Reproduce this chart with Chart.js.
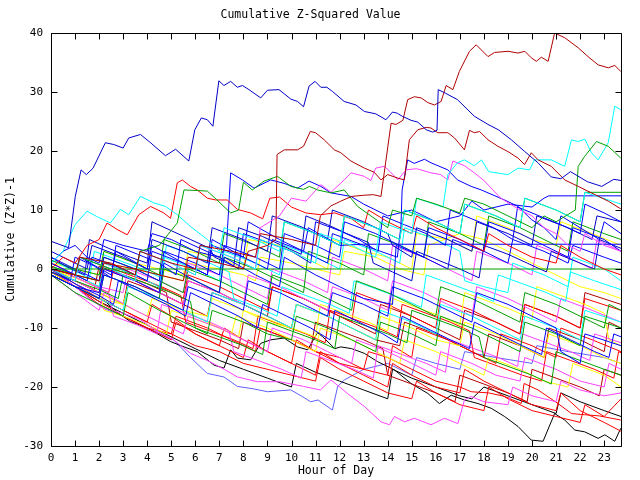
<!DOCTYPE html>
<html>
<head>
<meta charset="utf-8">
<script src="https://cdn.jsdelivr.net/npm/chart.js@4"></script>
<style>
  html, body { margin: 0; padding: 0; background: #fff; }
  canvas { display: block; }
</style>
</head>
<body>
<canvas id="chart" width="640" height="480"></canvas>
<script>
// Hour ticks along the bottom, value ticks on the left
const hourTicks  = [0,1,2,3,4,5,6,7,8,9,10,11,12,13,14,15,16,17,18,19,20,21,22,23];
const valueTicks = [-30,-20,-10,0,10,20,30,40];

// Each series: [hour, cumulative value] pairs
const darkBlueTop = [[0,4.7],[0.73,3.6],[1.01,12.3],[1.25,16.8],[1.47,16],[1.75,17.1],[2.26,21.4],[2.61,21.1],[3,20.5],[3.23,22.2],[3.72,22.8],[4.14,21.4],[4.76,19.2],[5.18,20.3],[5.73,18.3],[5.98,23.6],[6.25,25.6],[6.5,25.3],[6.73,24.2],[6.98,31.9],[7.19,31.1],[7.47,31.8],[7.75,30.8],[7.96,31.1],[8.23,30.4],[8.72,29],[9,30.3],[9.48,30.4],[9.97,28.8],[10.25,28.4],[10.5,27.5],[10.73,31],[10.98,31.8],[11.22,30.8],[11.47,30.8],[11.7,30.1],[12.19,28.4],[12.68,27.8],[13.03,26.7],[13.5,26.3],[13.93,25.3],[14.2,26.6],[14.4,26.4],[14.6,25.9],[14.97,25.2],[15.25,24.9],[15.6,23.6],[15.87,23.2],[16.05,23.5],[16.1,30.4],[16.4,29.8],[16.9,28.7],[17.6,25.9],[18.17,24.5],[18.6,23.6],[19.14,21.9],[19.7,19.9],[20.25,18],[20.8,15.6],[21.2,15.3],[21.6,16.5],[22.3,14.8],[22.9,14],[23.4,15.2],[23.7,15]];
const darkRedA = [[0,0],[1,-1],[2,-2],[2.2,1],[3.5,0],[4.5,-1],[5.5,-2],[5.7,2],[7,1],[8,0],[8.2,3],[9,4],[9.35,5],[9.4,19.4],[9.7,20.2],[10.25,20.2],[10.5,20.8],[10.78,23.3],[11,23.1],[11.36,21.9],[11.78,20.2],[12.05,19.7],[12.47,18.3],[13.03,17.1],[13.44,16.4],[13.72,15.1],[14,16],[14.42,15.4],[14.69,15.1],[14.9,21.9],[15.25,23.6],[15.6,24],[15.8,23.9],[16.08,23.1],[16.5,23.1],[16.78,22.2],[17.19,20.2],[17.4,23.5],[17.6,23.1],[17.82,23.3],[18.17,21.9],[18.58,20.8],[19,19.9],[19.42,18.8],[19.69,17.7],[19.97,19.7],[20.25,18.5],[20.8,17.4],[21.36,15.1],[21.92,14],[22.47,12.9],[23.17,11.5],[23.69,10.2]];
const darkRedB = [[0,0],[1,-1],[1.2,2],[2.5,1],[3.5,-1],[3.7,3],[5,1],[6,0],[6.2,4],[7.5,3],[8.5,2],[8.7,6],[10,5],[11,4],[11.2,9],[11.64,10.7],[12.05,11.5],[12.5,12.3],[13,12.5],[13.4,12.6],[13.72,12.3],[14.14,24.7],[14.35,24.5],[14.63,25.2],[14.83,28.7],[15.11,29.2],[15.39,29],[15.67,28.2],[15.94,27.8],[16.22,28.4],[16.43,31.1],[16.71,30.4],[16.98,33.5],[17.4,36.9],[17.68,38],[18.17,36],[18.44,36.7],[19,36.9],[19.42,36.6],[19.7,36.9],[19.97,35.8],[20.18,35.2],[20.39,35.9],[20.67,35.2],[20.94,40],[21.36,39.2],[21.92,37.5],[22.33,36],[22.75,34.6],[23.17,34.1],[23.44,34.5],[23.69,33.5]];
const greenUpper = [[0,0],[1,-1],[1.2,2],[2.5,0],[3.5,-1],[3.7,3],[4.5,4],[5.25,7.8],[5.53,13.4],[6.08,13.3],[6.5,13.2],[6.9,11.7],[7.47,9.5],[7.8,10],[8,14.7],[8.37,13.4],[8.86,14.9],[9.42,15.7],[9.97,14],[10.5,13.5],[10.75,14],[11.08,13.4],[11.64,12.9],[12.19,13.4],[12.75,10.6],[13.3,9],[14,7],[14.2,10],[15,9],[15.2,12],[16,11],[17,9.5],[17.2,12],[18,11],[19,9],[19.5,8],[20,7],[20.5,9],[21,8],[21.8,10],[21.92,17.4],[22.19,19.1],[22.68,21.6],[23.17,20.8],[23.69,18.8]];
const cyanTopRight = [[0,0],[1,-2],[1.2,2],[2.5,0],[3.5,-2],[3.7,3],[5,1],[6,-1],[6.2,4],[7.5,2],[8.5,0],[8.7,5],[10,3],[11,1],[11.2,6],[12.5,4],[13.5,2],[13.7,8],[15,6],[15.2,12],[16.3,10.5],[16.5,16],[16.9,18],[17.19,18.5],[17.6,17.5],[17.9,18.5],[18.2,16.5],[19,16],[19.42,17.1],[19.9,16.8],[20.1,18.5],[20.8,18.5],[21.36,17.4],[21.64,21.9],[21.9,21.6],[22.2,22],[22.47,19.7],[22.75,18.5],[23.17,21.4],[23.44,27.6],[23.69,27]];
const cyanLeft = [[0,1],[0.5,3],[1,7.5],[1.5,9.8],[1.9,8.9],[2.47,7.8],[2.89,10.1],[3.23,9.2],[3.72,12.3],[4.28,11.2],[4.76,10.6],[5.25,9.2],[5.8,7.2],[6.5,5],[7,3],[7.2,7],[8.5,5],[9.5,3],[9.7,8],[11,6],[12,4],[12.2,9],[13.5,7],[14.5,5],[14.7,10],[16,8],[17,6],[17.2,11],[18.5,9],[19.5,7],[19.7,12],[21,10],[22,8],[22.2,13],[23.7,11]];
const magentaUpper = [[0,0],[1,-2],[1.2,2],[2.5,0],[3.5,-2],[3.7,3],[5,1],[6,-1],[6.2,4],[7.5,2],[8.5,0],[8.7,7],[9.5,9],[10,12],[10.6,11.5],[11.22,14.3],[11.64,13],[12.19,15.1],[12.47,16.3],[13.03,15.7],[13.3,15],[13.5,17.1],[13.86,17.4],[14.1,16.5],[14.42,15.1],[14.76,16.8],[15.2,17],[15.8,16.3],[16.2,16],[16.5,15.1],[16.71,18.3],[17.19,17.5],[17.6,16.3],[18,15],[18.7,12],[19.5,10],[20,9],[20.5,7],[21,6],[21.5,4],[22,3],[22.2,6],[23,4],[23.7,3]];
const redUpper = [[0,0],[0.5,2],[1,1],[1.5,4],[2,5],[2.33,7.8],[2.75,6.7],[3.17,5.8],[3.65,9.2],[4.14,10.6],[4.69,9.5],[4.97,8.6],[5.25,14.6],[5.46,15.1],[5.8,14],[6.08,13.4],[6.5,12],[6.85,11.7],[7.33,11.7],[7.75,10.1],[8.3,9.5],[8.8,8.5],[9.1,12],[9.5,12.2],[10,10.5],[10.6,9.5],[11.2,9.2],[11.8,9.5],[12.5,8.5],[13,7],[13.2,10],[14,8],[15,6],[15.2,9],[16,7],[17,5],[18,3],[18.2,6],[19,4],[20,2],[21,1],[21.2,4],[22,2],[23,0],[23.7,-1]];
const blueMidPeak = [[0,1],[0.5,3],[1,4],[1.5,2],[2,1],[2.2,5],[3,4],[4,3],[4.2,6],[5,5],[6,3],[7,2],[7.3,4],[7.47,16.3],[7.96,15.1],[8.44,13.7],[9.14,15.1],[9.7,14.5],[10.25,13.7],[10.73,14.9],[11.22,14],[11.64,12.9],[12.47,12.3],[13,11],[14,9],[15,10],[15.5,9],[16,8],[17,9],[17.5,11.5],[18,10],[19,11],[20,10.5],[20.5,12],[20.7,12.4],[23.7,12.4]];
const blueLatePeak = [[0,1],[1,-1],[1.5,-2],[1.7,2],[3,0],[4,-2],[4.2,3],[5.5,1],[6.5,-1],[6.7,4],[8,2],[9,0],[9.2,5],[10.5,3],[11.5,1],[11.7,6],[13,4],[14.4,2],[14.55,7.3],[14.6,13.4],[14.83,18.5],[15.1,17.9],[15.53,18.6],[15.8,18],[16.5,16.8],[16.9,15.1],[17.47,14],[17.89,13.4],[18.86,11.7],[19.42,10.6],[19.97,8.4],[20.5,7],[21,5],[21.2,9],[22,7],[22.8,5],[23,8],[23.7,6]];
const blueFlat = [[0,0],[1,-2],[1.2,2],[2.5,-1],[2.7,3],[4,0],[4.2,4],[5.5,1],[6.5,-1],[6.7,5],[8,2],[8.2,8],[9.5,5],[10.5,3],[10.7,7],[12,4],[13,4.2],[23.7,4.2]];
const greenFlat = [[0,0],[23.7,0]];
const blueSpike = [[0,-1],[1,-3],[2,-4],[2.2,0],[3.5,-2],[4.5,-4],[4.7,1],[6,-2],[7,-4],[7.2,2],[8.5,-1],[9.5,-3],[9.7,2],[11,-1],[12,-3],[13,-5],[14.2,-6],[14.35,4],[15.5,2],[16.5,0],[16.7,5],[18,3],[19,1],[19.2,5],[20.5,3],[21.5,1],[21.7,4],[23,2],[23.7,1]];
const blueRiser = [[0,2],[1,0],[2,-2],[2.2,2],[3.5,0],[4.5,-2],[4.7,3],[6,1],[7,-1],[7.2,4],[8.5,2],[9.5,0],[9.7,6],[11,4],[12,2],[12.2,8],[13.5,6],[14.5,4],[15.5,2],[15.7,7],[17,5],[18,3],[18.2,8],[19.5,6],[20.5,4],[21.5,2],[21.7,7],[23,5],[23.7,3]];
const blueLow = [[0,-1],[1,-3],[2,-5],[2.2,-1],[3.5,-3],[4.5,-5],[5.5,-7],[5.7,-3],[7,-5],[8,-7],[8.2,-2],[9.5,-4],[10.5,-6],[11.5,-8],[11.7,-4],[13,-6],[14,-8],[14.2,-3],[15.5,-5],[16.5,-7],[17.5,-9],[17.7,-4],[19,-6],[20,-8],[21,-10],[21.2,-14],[22,-16],[22.2,-11],[23.7,-13]];
const blueSteps = [[0,-0.5],[0.8,-2],[1,2],[1.8,0.5],[2.5,-1.5],[2.7,4],[3.6,2.5],[4.5,1],[5.2,-1],[5.4,5],[6.2,3.5],[7,2],[7.8,0],[8,6],[9,4.5],[10,3],[10.8,1],[11,8],[12,6.5],[12.8,5],[13.6,3],[13.8,9],[14.7,7.5],[15.6,6],[16.4,4],[16.6,10],[17.5,8.5],[18.4,7],[19.2,5],[19.4,10.5],[20.3,9],[21.2,7.5],[22,6],[22.2,11],[23,9.5],[23.7,8]];
const blueSlide = [[0,0],[1,-2.5],[2,-4.5],[2.6,-6],[2.8,-2],[3.8,-4],[4.8,-6],[5.6,-8],[5.8,-4],[6.8,-6],[7.8,-8],[8.6,-10],[8.8,-6],[9.8,-8],[10.8,-10],[11.6,-12],[11.8,-7],[12.8,-9],[13.8,-11],[14.4,-12.5],[14.6,-8],[15.6,-10],[16.6,-12],[17.4,-13.5],[17.6,-9],[18.6,-11],[19.6,-13],[20.4,-14.5],[20.6,-10],[21.6,-12],[22.6,-14],[23.2,-15],[23.4,-11],[23.7,-11.5]];
const darkBlueMid = [[0,3],[1,1],[1.5,0],[1.7,4],[3,2],[4,0],[4.2,5],[5.5,3],[6.5,1],[6.7,7],[8,5],[9,3],[9.2,9],[10.5,7],[11.5,5],[11.7,10],[13,8],[14,6],[14.2,4],[15,2],[15.2,7],[16.5,5],[17.5,3],[17.7,8],[19,6],[20,4],[20.2,9],[21.5,7],[22.5,5],[22.7,9],[23.7,8]];
const darkBlueWave = [[0,2],[0.6,0.5],[1.4,-1],[1.6,5],[2.4,3.5],[3.3,2],[4,1],[4.2,8],[5,6.5],[5.8,5],[6.6,3.5],[6.8,2],[7.6,0.5],[7.8,7],[8.8,5.5],[9.6,4],[10.4,2.5],[10.6,9],[11.5,7.5],[12.3,6],[13.2,4.5],[13.4,1],[14.2,-0.5],[15,-2],[15.2,3],[16.1,1.5],[17,0],[17.8,-1.5],[18,4],[19,2.5],[19.8,1],[20.6,-0.5],[20.8,3],[21.7,1.5],[22.6,0],[22.8,5],[23.7,3.5]];
const greenMid = [[0,-1],[1,-3],[2,-5],[2.2,-1],[3.5,-3],[4.5,-5],[4.7,0],[6,-2],[7,-4],[7.2,2],[8.5,0],[9.5,-2],[10.5,-4],[10.7,3],[12,1],[13,-1],[13.2,6],[14.5,4],[15.5,2],[15.7,8],[17,6],[18,4],[18.2,9],[19.5,7],[20.5,5],[21.5,3],[21.7,8],[23,6],[23.7,5]];
const greenLow = [[0,-1],[1,-4],[2,-6],[3,-8],[3.2,-4],[4.5,-7],[5.5,-9],[6.5,-11],[6.7,-7],[8,-9],[9,-11],[10,-12],[10.2,-8],[11.5,-10],[12.5,-12],[13.5,-14],[13.7,-9],[15,-11],[16,-13],[16.2,-8],[17.5,-10],[18.5,-12],[19.5,-14],[19.7,-9],[21,-11],[22,-13],[22.2,-8],[23.7,-10]];
const greenDrift = [[0,0.5],[1,-1],[2,-2],[2.2,2],[3.5,0],[4.5,-2],[5.5,-4],[5.7,0],[7,-2],[8,-4],[9,-6],[9.2,-1],[10.5,-3],[11.5,-5],[12.5,-7],[12.7,-2],[14,-4],[15,-6],[16,-8],[16.2,-3],[17.5,-5],[18.5,-7],[19.5,-9],[19.7,-4],[21,-6],[22,-8],[23,-10],[23.2,-6],[23.7,-7]];
const greenHigh = [[0,1.5],[1,0],[2,-1],[2.2,3],[3.5,1],[4.5,-1],[4.7,5],[6,3],[7,1],[7.2,6],[8.5,4],[9.5,2],[9.7,8],[11,6],[12,4],[12.2,9],[13.5,7],[14.5,5],[14.7,10],[16,8],[17,6],[17.2,11],[18.5,9],[19.5,7],[19.7,12],[21,10],[22,8],[22.2,13],[23.7,13]];
const greenSink = [[0,-0.5],[1,-2],[2,-3.5],[2.8,-5],[3,-1],[4,-2.5],[5,-4],[5.8,-5.5],[6,-10],[7,-11.5],[8,-13],[8.8,-14.5],[9,-9],[10,-10.5],[11,-12],[11.8,-13.5],[12,-8],[13,-9.5],[14,-11],[14.8,-12.5],[15,-7],[16,-8.5],[17,-10],[17.8,-11.5],[18,-15],[19,-16.5],[20,-18],[20.8,-19.5],[21,-14],[22,-15.5],[23,-17],[23.7,-18]];
const cyanLow = [[0,-1],[1,-3],[2,-5],[3,-7],[3.2,-3],[4.5,-5],[5.5,-7],[6.5,-9],[6.7,-4],[8,-6],[9,-8],[10,-10],[10.2,-6],[11.5,-8],[12.5,-10],[13.5,-12],[13.7,-7],[15,-9],[16,-11],[16.2,-6],[17.5,-8],[18.5,-10],[19.5,-12],[19.7,-8],[21,-10],[22,-12],[22.2,-7],[23.7,-9]];
const cyanMid = [[0,0.5],[1,-1],[2,-3],[2.2,1],[3.5,-1],[4.5,-3],[4.7,2],[6,0],[7,-2],[7.2,3],[8.5,1],[9.5,-1],[9.7,4],[11,2],[12,0],[12.2,5],[13.5,3],[14.5,1],[14.7,7],[16,5],[17,3],[17.2,-2],[18,-3],[19,-4],[19.2,1],[20.5,-1],[21.5,-3],[21.7,2],[23,0],[23.7,-2]];
const cyanDip = [[0,1.5],[0.8,0],[1.6,-1.5],[1.8,3],[2.8,1.5],[3.8,0],[4.6,-1.5],[4.8,4],[5.8,2.5],[6.6,1],[7.4,-0.5],[7.6,-5],[8.6,-6.5],[9.4,-8],[9.6,-3],[10.6,-4.5],[11.6,-6],[12.4,-7.5],[12.6,-2],[13.6,-3.5],[14.6,-5],[15.4,-6.5],[15.6,-1],[16.6,-2.5],[17.6,-4],[18.4,-5.5],[18.6,-1],[19.6,-2.5],[20.6,-4],[21.4,-5.5],[21.6,-0.5],[22.6,-2],[23.7,-3.5]];
const magentaMid = [[0,-0.5],[1,-2],[2,-4],[2.2,0],[3.5,-2],[4.5,-4],[5.5,-6],[5.7,-2],[7,-4],[8,-6],[8.2,-1],[9.5,-3],[10.5,-5],[11.5,-7],[11.7,-3],[13,-5],[14,-7],[14.2,-2],[15.5,-4],[16.5,-6],[17.5,-8],[17.7,-3],[19,-5],[20,-7],[21,-9],[21.2,-5],[22.5,-7],[23.7,-9]];
const magentaDown = [[0,-1],[1,-4],[2,-7],[2.2,-4],[3.5,-7],[4.5,-9],[5.5,-11],[5.7,-8],[7,-10],[8,-12],[9,-14],[9.2,-10],[10.5,-12],[11.5,-14],[12.5,-16],[12.7,-12],[14,-14],[15,-16],[16,-18],[16.2,-14],[17.5,-16],[18.5,-18],[19.5,-19],[19.7,-15],[21,-17],[22,-19],[23,-20],[23.2,-16],[23.7,-17]];
const magentaHigh = [[0,1],[1,-1],[2,-3],[3,-4],[3.2,0],[4.5,-2],[5.5,-4],[5.7,1],[7,-1],[8,-3],[9,-5],[9.2,0],[10.5,-2],[11.5,-4],[11.7,2],[13,0],[14,-2],[14.2,4],[15.5,2],[16.5,0],[17.5,-2],[17.7,3],[19,1],[20,-1],[20.2,4],[21.5,2],[22.5,0],[22.7,5],[23.7,3]];
const magentaSteps = [[0,0.5],[0.8,-1],[1.6,-2.5],[2.4,-4],[2.6,-8],[3.6,-9.5],[4.4,-11],[4.6,-6],[5.6,-7.5],[6.6,-9],[7.4,-10.5],[7.6,-14],[8.6,-15.5],[9.6,-17],[10.4,-18.5],[10.6,-14],[11.6,-15.5],[12.6,-17],[13.4,-18.5],[13.6,-13],[14.6,-14.5],[15.6,-16],[16.4,-17.5],[16.6,-12],[17.6,-13.5],[18.6,-15],[19.4,-16.5],[19.6,-11],[20.6,-12.5],[21.6,-14],[22.4,-15.5],[22.6,-11],[23.7,-12.5]];
const magentaLow = [[0,0],[0.5,-1.5],[1,-3],[1.6,-5],[2.2,-6.7],[3,-7.5],[3.72,-8.6],[4.4,-10.5],[5.1,-12],[5.8,-14.3],[6.5,-15.5],[7.2,-17],[7.75,-18.3],[8.58,-19.1],[9.5,-19.1],[10.5,-19.9],[11.2,-20.5],[11.64,-18.8],[12.33,-21.1],[13.03,-23.3],[13.72,-25.9],[14.07,-26.4],[14.28,-25],[14.7,-25.9],[15.11,-25.3],[15.8,-26.4],[16.36,-25.3],[16.92,-26.2],[17.19,-22.2],[17.47,-21.6],[18,-22.5],[19,-23],[19.2,-20],[20,-21.5],[21,-22.5],[21.2,-19],[22,-20.5],[23,-21.5],[23.7,-21]];
const yellowMid = [[0,0],[1,-1],[2,-2],[2.2,1],[3.5,0],[4.5,-1],[5.5,-2],[5.7,1],[7,0],[8,-1],[8.5,-2],[8.7,2],[10,1],[11,0],[12,-1],[12.2,3],[13.5,2],[14.5,0],[15.5,-1],[15.7,4],[17,6],[18,5],[19,3],[20,1],[21,-1],[22,-3],[23,-4],[23.7,-5]];
const yellowLow = [[0,-0.5],[1,-3],[2,-5],[3,-6],[3.2,-3],[4.5,-5],[5.5,-7],[6.5,-8],[6.7,-5],[8,-7],[9,-9],[10,-10],[10.2,-6],[11.5,-8],[12.5,-10],[13.5,-12],[13.7,-8],[15,-10],[16,-12],[17,-13],[17.2,-9],[18.5,-11],[19.5,-13],[20.5,-15],[20.7,-11],[22,-13],[23,-15],[23.7,-16]];
const yellowDown = [[0,0.5],[1,-2],[2,-4],[3,-6],[4,-8],[4.2,-5],[5.5,-7],[6.5,-9],[7.5,-11],[7.7,-8],[9,-10],[10,-12],[11,-14],[11.2,-10],[12.5,-12],[13.5,-14],[14.5,-16],[14.7,-12],[16,-14],[17,-16],[18,-18],[18.2,-15],[19.5,-17],[20.5,-19],[21.5,-20],[21.7,-16],[23,-18],[23.7,-20]];
const yellowHigh = [[0,1],[1,0],[2,-1],[2.2,3],[3.5,1],[4.5,0],[5.5,-1],[5.7,3],[7,2],[8,0],[8.2,5],[9.5,4],[10.5,2],[11.5,0],[11.7,5],[13,3],[14,2],[15,0],[15.2,6],[16.5,5],[17.5,3],[17.7,9],[19,7],[20,5],[21,4],[21.2,8],[22.5,6],[23.7,4]];
const yellowSaw = [[0,0],[1,-1.5],[2,-3],[2.2,-7],[3,-8],[4,-9.5],[4.8,-11],[5,-7],[6,-8.5],[7,-10],[7.8,-11.5],[8,-7],[9,-8.5],[10,-10],[11,-11.5],[11.2,-6],[12.2,-7.5],[13.2,-9],[14,-10.5],[14.2,-5],[15.2,-6.5],[16.2,-8],[17,-9.5],[17.2,-4],[18.2,-5.5],[19.2,-7],[20,-8.5],[20.2,-3],[21.2,-4.5],[22.2,-6],[23,-7.5],[23.2,-12],[23.7,-13]];
const redLowA = [[0,0],[1,-2.5],[2,-5],[3,-7],[4,-9],[4.2,-6],[5,-8],[6,-11],[7,-13],[7.2,-10],[8,-12],[9,-14],[10,-16],[10.2,-12],[11,-14],[12,-16],[13,-17],[13.2,-14],[14,-15],[15,-17],[16,-19],[17,-20],[17.47,-20.8],[18.2,-21],[18.86,-21.6],[19.55,-22.8],[19.67,-19.4],[20.25,-20.5],[21.08,-22.8],[21.64,-24.5],[22.19,-24.7],[22.8,-24.9],[23.69,-25.6]];
const redLowB = [[0,-0.5],[1,-3],[2,-5.5],[3,-8],[4,-10],[5,-12],[5.2,-9],[6,-11],[7,-13],[8,-15],[8.2,-12],[9,-14],[10,-16],[11,-18],[11.2,-14],[12,-16],[13,-18],[14,-20],[14.2,-16],[15,-18],[16,-20],[17,-21],[17.2,-17],[18,-19],[19,-21],[20,-23],[21,-24],[21.2,-21],[22,-24],[23,-26],[23.7,-27.5]];
const redMid = [[0,1],[1,-1],[2,-3],[2.2,1],[3.5,-1],[4.5,-3],[5.5,-5],[5.7,-1],[7,-3],[8,-5],[9,-7],[9.2,-3],[10.5,-5],[11.5,-7],[12.5,-9],[12.7,-4],[14,-6],[15,-8],[16,-10],[16.2,-5],[17.5,-7],[18.5,-9],[19.5,-11],[19.7,-6],[21,-8],[22,-10],[22.2,-5],[23.7,-7]];
const redJumpy = [[0,-1],[1,-3],[2,-5],[3,-7],[4,-9],[5,-11],[5.2,-8],[6.5,-10],[7.5,-12],[8.5,-14],[8.7,-10],[10,-12],[11,-14],[12,-15],[13,-17],[14,-18],[14.2,-13],[15,-15],[15.2,-10],[16.5,-12],[17.5,-14],[18.5,-16],[18.7,-11],[20,-13],[21,-15],[21.2,-10],[22.5,-12],[23.7,-14]];
const redBottom = [[0,0],[1,-3],[2,-6],[3,-8],[4,-10],[5,-11],[6,-13],[7,-14],[8,-16],[9,-17],[10,-18],[11,-19],[11.2,-15],[12,-17],[13,-19],[14,-21],[15,-22],[15.2,-19],[16,-21],[17,-23],[18,-24],[18.2,-20],[19,-22],[20,-24],[21,-25],[22,-26],[22.2,-23],[23,-25],[23.7,-22]];
const redZig = [[0,0.5],[0.8,-1],[1.6,-2.5],[2.4,-4],[2.6,0],[3.6,-1.5],[4.6,-3],[5.4,-4.5],[5.6,-9],[6.6,-10.5],[7.6,-12],[8.4,-13.5],[8.6,-8],[9.6,-9.5],[10.6,-11],[11.4,-12.5],[11.6,-7],[12.6,-8.5],[13.6,-10],[14.4,-11.5],[14.6,-6],[15.6,-7.5],[16.6,-9],[17.4,-10.5],[17.6,-15],[18.6,-16.5],[19.6,-18],[20.4,-19],[20.6,-14],[21.6,-15.5],[22.6,-17],[23.4,-18.5],[23.6,-14],[23.7,-14.2]];
const darkRedMid = [[0,-0.5],[1,-2],[2,-4],[3,-6],[3.2,-2],[4.5,-4],[5.5,-6],[6.5,-8],[6.7,-4],[8,-6],[9,-8],[10,-10],[10.2,-6],[11.5,-8],[12.5,-10],[13.5,-12],[14.5,-13],[14.7,-9],[16,-11],[17,-13],[18,-15],[18.2,-11],[19.5,-13],[20.5,-15],[20.7,-10],[22,-12],[23,-14],[23.2,-9],[23.7,-10]];
const darkRedDrift = [[0,0],[1,-2],[2,-4],[2.2,0],[3.5,-2],[4.5,-4],[5.5,-6],[5.7,-2],[7,-4],[8,-6],[9,-8],[9.2,-3],[10.5,-5],[11.5,-7],[12.5,-9],[13.5,-11],[13.7,-6],[15,-8],[16,-10],[17,-12],[17.2,-7],[18.5,-9],[19.5,-11],[19.7,-6],[21,-8],[22,-10],[22.2,-4],[23.7,-6]];
const darkRedSink = [[0,0],[1,-2],[1.8,-3.5],[2,0.5],[3,-1],[4,-2.5],[4.8,-4],[5,-9],[6,-10.5],[7,-12],[7.8,-13.5],[8,-9],[9,-10.5],[10,-12],[10.8,-13.5],[11,-9],[12,-10.5],[13,-12],[13.8,-13.5],[14,-18],[15,-19.5],[16,-21],[16.8,-22.5],[17,-18],[18,-19.5],[19,-21],[19.8,-22.5],[20,-17],[21,-18.5],[22,-20],[22.8,-21.5],[23,-17],[23.7,-18]];
const blackLow = [[0,0],[0.5,-1.5],[1,-3],[1.5,-4],[2.2,-5.3],[2.8,-7.5],[3.3,-8.9],[3.7,-9.5],[4.14,-10.3],[4.97,-12.3],[5.53,-13.2],[6.08,-14],[6.78,-16.3],[7.19,-16.8],[7.47,-13.7],[7.75,-15.1],[8.3,-15.4],[8.72,-12.6],[9.14,-12],[9.69,-11.7],[10.25,-13.2],[10.67,-13.7],[11.08,-10.8],[11.3,-11.5],[11.8,-13.5],[12.05,-13.2],[12.5,-13.5],[13.03,-14.3],[13.58,-15.7],[14.28,-17.1],[14.97,-19.4],[15.67,-21.1],[16.15,-22.8],[16.64,-21.4],[17.19,-22.2],[17.75,-22.8],[18.3,-23.6],[18.86,-25],[19.42,-26.7],[19.97,-29],[20.46,-29.2],[20.94,-24.5],[21.36,-25.6],[21.78,-27.3],[22.19,-27.6],[22.75,-28.7],[23.03,-28.1],[23.44,-29.2],[23.69,-27]];
const blackDrift = [[0,-0.5],[1,-3],[2,-5.5],[3,-7.5],[4,-9.5],[5,-11.5],[6,-13.5],[7,-15.5],[8,-17],[9,-18.5],[10,-20],[10.2,-16],[11,-17.5],[12,-19],[13,-20.5],[14,-22],[14.2,-17],[15,-18.5],[16,-20],[17,-21.5],[17.5,-22],[18,-20],[19,-21.5],[20,-23],[21,-24.5],[21.2,-21],[22,-22.5],[23,-24],[23.7,-25]];
const periwinkleLow = [[0,0],[0.5,-1.5],[1,-3],[1.6,-5],[2.2,-6.7],[3,-8],[4,-10],[5.1,-12],[5.8,-15],[6.5,-17.7],[7.19,-18.3],[7.75,-19.9],[8.4,-20.3],[9,-20.8],[9.97,-20.5],[10.4,-21.5],[10.8,-22.5],[11.1,-22.2],[11.7,-23.9],[11.92,-19.9],[12.2,-18.8],[13,-17],[14,-16],[15,-18],[15.2,-15],[16,-16],[17,-17],[17.2,-14],[18.5,-15],[20,-16],[20.2,-13],[21.5,-14],[23,-15],[23.7,-16]];

const BLUE = '#0000ff', DKBLUE = '#0000c8', RED = '#ff0000', DKRED = '#b00000',
      GREEN = '#00a000', CYAN = '#00ffff', MAGENTA = '#ff40ff', YELLOW = '#ffff00',
      BLACK = '#000000', PERI = '#6060ff';

const seriesList = [
  [darkBlueTop, DKBLUE], [darkRedA, DKRED], [darkRedB, DKRED], [greenUpper, GREEN],
  [cyanTopRight, CYAN], [cyanLeft, CYAN], [magentaUpper, MAGENTA], [redUpper, RED],
  [blueMidPeak, BLUE], [blueLatePeak, BLUE], [blueFlat, BLUE], [greenFlat, GREEN],
  [blueSpike, BLUE], [blueRiser, BLUE], [blueLow, BLUE], [blueSteps, BLUE],
  [blueSlide, BLUE], [darkBlueMid, DKBLUE], [darkBlueWave, DKBLUE],
  [greenMid, GREEN], [greenLow, GREEN], [greenDrift, GREEN], [greenHigh, GREEN], [greenSink, GREEN],
  [cyanLow, CYAN], [cyanMid, CYAN], [cyanDip, CYAN],
  [magentaMid, MAGENTA], [magentaDown, MAGENTA], [magentaHigh, MAGENTA], [magentaSteps, MAGENTA],
  [magentaLow, MAGENTA], [yellowMid, YELLOW], [yellowLow, YELLOW], [yellowDown, YELLOW],
  [yellowHigh, YELLOW], [yellowSaw, YELLOW], [redLowA, RED], [redLowB, RED],
  [redMid, RED], [redJumpy, RED], [redBottom, RED], [redZig, RED], [darkRedMid, DKRED],
  [darkRedDrift, DKRED], [darkRedSink, DKRED], [blackLow, BLACK], [blackDrift, BLACK],
  [periwinkleLow, PERI]
];

const FONT = '"DejaVu Sans Mono", "Liberation Mono", monospace';

// Frame with inward ticks on all four sides (gnuplot style)
const framePlugin = {
  id: 'frame',
  afterDatasetsDraw(chart) {
    const { ctx, chartArea: a, scales: { x, y } } = chart;
    const L = Math.round(a.left) + 0.5, R = Math.round(a.right) + 0.5;
    const T = Math.round(a.top) + 0.5, B = Math.round(a.bottom) + 0.5;
    ctx.save();
    ctx.strokeStyle = '#000';
    ctx.lineWidth = 1;
    ctx.beginPath();
    ctx.rect(L, T, R - L, B - T);
    for (const h of hourTicks) {
      const px = Math.round(x.getPixelForValue(h)) + 0.5;
      ctx.moveTo(px, B); ctx.lineTo(px, B - 6);
      ctx.moveTo(px, T); ctx.lineTo(px, T + 6);
    }
    for (const v of valueTicks) {
      const py = Math.round(y.getPixelForValue(v)) + 0.5;
      ctx.moveTo(L, py); ctx.lineTo(L + 6, py);
      ctx.moveTo(R, py); ctx.lineTo(R - 6, py);
    }
    ctx.stroke();
    ctx.restore();
  }
};

new Chart(document.getElementById('chart'), {
  type: 'line',
  data: {
    datasets: seriesList.map(([pts, color]) => ({
      data: pts.map(([h, v]) => ({ x: h, y: v })),
      borderColor: color,
      borderWidth: 1,
      pointRadius: 0,
      tension: 0,
      fill: false
    }))
  },
  options: {
    responsive: false,
    animation: false,
    devicePixelRatio: 1,
    layout: { padding: { left: 0, right: 19, top: 0, bottom: 0 } },
    plugins: {
      legend: { display: false },
      tooltip: { enabled: false },
      title: {
        display: true,
        text: 'Cumulative Z-Squared Value',
        color: '#000',
        font: { family: FONT, size: 11.5, weight: 'normal' },
        padding: { top: 8.6, bottom: 10.6 }
      }
    },
    scales: {
      x: {
        type: 'linear',
        min: 0,
        max: 23.7,
        afterFit: s => { s.height = 34; },
        afterBuildTicks: s => { s.ticks = hourTicks.map(v => ({ value: v })); },
        ticks: {
          color: '#000',
          autoSkip: false,
          maxRotation: 0,
          padding: 6,
          font: { family: FONT, size: 11 }
        },
        grid: { display: false, drawTicks: false },
        border: { display: false },
        title: {
          display: true,
          text: 'Hour of Day',
          color: '#000',
          font: { family: FONT, size: 11.5 },
          padding: { top: 0, bottom: 2 }
        }
      },
      y: {
        min: -30,
        max: 40,
        afterFit: s => { s.width = 51; },
        afterBuildTicks: s => { s.ticks = valueTicks.map(v => ({ value: v })); },
        ticks: {
          color: '#000',
          padding: 8,
          font: { family: FONT, size: 11 }
        },
        grid: { display: false, drawTicks: false },
        border: { display: false },
        title: {
          display: true,
          text: 'Cumulative (Z*Z)-1',
          color: '#000',
          font: { family: FONT, size: 11.5 },
          padding: { top: 4, bottom: 0 }
        }
      }
    }
  },
  plugins: [framePlugin]
});
</script>
</body>
</html>
